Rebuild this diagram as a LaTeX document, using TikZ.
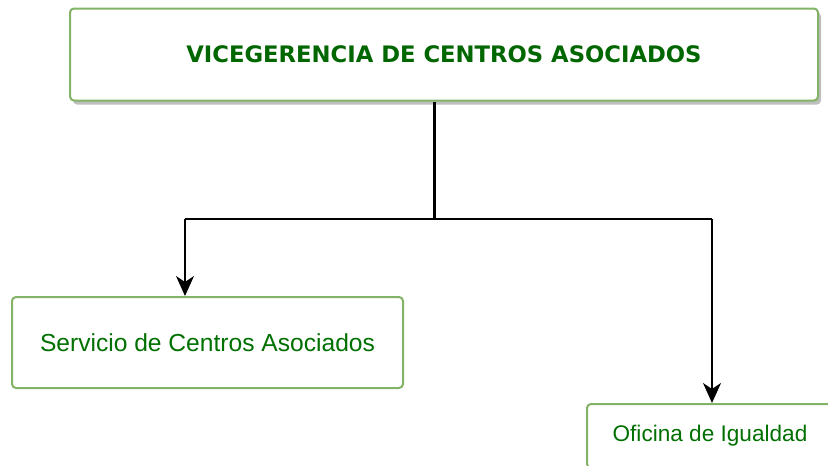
\documentclass[tikz,border=0pt]{standalone}
\usepackage{fontspec}
\setmainfont{Liberation Sans}
\newfontfamily\dejavu{DejaVu Sans}
\usetikzlibrary{arrows.meta,shadows}
\definecolor{boxgreen}{HTML}{82B366}
\definecolor{textgreen}{HTML}{006600}
\definecolor{textgreenb}{HTML}{007000}
\begin{document}
\begin{tikzpicture}[x=1pt,y=-1pt,
  orgbox/.style={draw=boxgreen,line width=2pt,rounded corners=4pt,fill=white,
    text=textgreen,inner sep=0pt,align=center},
  trunk/.style={line width=3pt,black},
  branch/.style={line width=1.5pt,black},
  arrowline/.style={line width=1.5pt,black,-{Stealth[length=20pt,width=18pt,inset=6pt]}}]
\useasboundingbox (0,0) rectangle (828,466);
\clip (0,0) rectangle (828,466);
\node[orgbox,minimum width=748pt,minimum height=92pt,
  drop shadow={shadow xshift=3pt,shadow yshift=-4pt,fill=black!25,opacity=1}]
  (top) at (444,54.5) {\dejavu\bfseries\fontsize{22.7}{26}\selectfont VICEGERENCIA DE CENTROS ASOCIADOS};
\node[orgbox,text=textgreenb,minimum width=391pt,minimum height=91pt] (left) at (207.5,342.5)
  {\fontsize{24.6}{28}\selectfont Servicio de Centros Asociados};
\node[orgbox,text=textgreenb,minimum width=246pt,minimum height=64pt] (right) at (710,436)
  {\fontsize{22.6}{26}\selectfont Oficina de Igualdad};
\coordinate (j) at (434,219);
\coordinate (jl) at (185,219);
\coordinate (jr) at (712,219);
\draw[trunk] (j |- top.south) -- (j);
\draw[branch] (jl) -- (jr);
\draw[arrowline] (jl) -- (jl |- left.north);
\draw[arrowline] (jr) -- (jr |- right.north);
\end{tikzpicture}
\end{document}
